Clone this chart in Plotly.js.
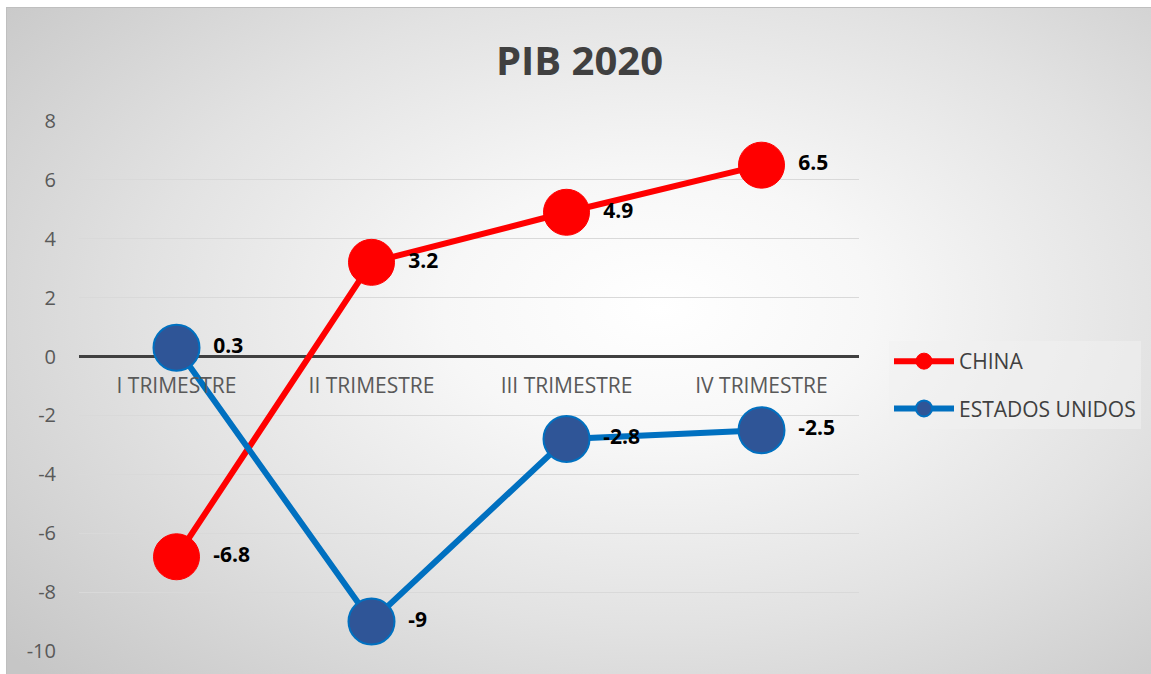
<!DOCTYPE html>
<html>
<head>
<meta charset="utf-8">
<script src="https://cdn.plot.ly/plotly-3.0.1.min.js"></script>
<style>
  html, body { margin: 0; padding: 0; background: #ffffff; width: 1151px; height: 674px; overflow: hidden; }
  #chart {
    position: absolute; left: 6px; top: 7px; width: 1145px; height: 667px;
    border-left: 1px solid #bfbfbf; border-top: 1px solid #bfbfbf; box-sizing: border-box;
    background: radial-gradient(ellipse 75% 80% at 57% 45%, #ffffff 0%, #f7f7f7 25%, #e2e2e2 60%, #c6c6c6 100%);
  }
</style>
</head>
<body>
<div id="chart"></div>
<script>
const categories = ["I TRIMESTRE", "II TRIMESTRE", "III TRIMESTRE", "IV TRIMESTRE"];
const chinaValues = [-6.8, 3.2, 4.9, 6.5];
const usaValues = [0.3, -9, -2.8, -2.5];
const seriesNames = ["CHINA", "ESTADOS UNIDOS"];
const yTicks = [-10, -8, -6, -4, -2, 0, 2, 4, 6, 8];

const labelFont = { family: "Open Sans, sans-serif", size: 21, color: "#000000", weight: 700 };
const pad = "\u2009\u2009";

const traces = [
  {
    x: categories, y: chinaValues, name: seriesNames[0], type: "scatter", mode: "lines+markers+text",
    line: { color: "#FF0000", width: 6 },
    marker: { color: "#FF0000", size: 46, line: { color: "#FF0000", width: 1 } },
    text: chinaValues.map(v => pad + String(v)), textposition: "middle right",
    textfont: labelFont, legendgroup: "a", cliponaxis: false
  },
  {
    x: categories, y: usaValues, name: seriesNames[1], type: "scatter", mode: "lines+markers+text",
    line: { color: "#0070C0", width: 6 },
    marker: { color: "#2F5597", size: 46, line: { color: "#0070C0", width: 2 } },
    text: usaValues.map(v => pad + String(v)), textposition: "middle right",
    textfont: labelFont, legendgroup: "b", cliponaxis: false
  }
];

const layout = {
  width: 1145, height: 667,
  paper_bgcolor: "rgba(0,0,0,0)", plot_bgcolor: "rgba(0,0,0,0)",
  margin: { l: 72, r: 293, t: 113, b: 24 },
  title: {
    text: "<b>PIB 2020</b>", x: 0.5, xanchor: "center", xref: "container",
    y: 1 - 53 / 667, yanchor: "middle", yref: "container",
    font: { family: "Open Sans, sans-serif", size: 40, color: "#404040" }
  },
  xaxis: {
    type: "category", range: [-0.5, 3.5], anchor: "free", position: 10 / 18,
    showgrid: false, showline: false, zeroline: false, ticks: "",
    tickfont: { family: "Open Sans, sans-serif", size: 21, color: "#595959" },
    ticklabelstandoff: 14, fixedrange: true
  },
  yaxis: {
    range: [-10, 8], tickvals: yTicks, ticktext: yTicks.map(String),
    showgrid: true, gridcolor: "#d9d9d9", gridwidth: 1,
    zeroline: true, zerolinecolor: "#404040", zerolinewidth: 3,
    showline: false, ticks: "",
    tickfont: { family: "Open Sans, sans-serif", size: 20, color: "#595959" },
    ticklabelstandoff: 22, fixedrange: true
  },
  showlegend: true,
  legend: {
    x: 882 / 1145, xanchor: "left", xref: "container",
    y: 1 - 333 / 667, yanchor: "top", yref: "container",
    bgcolor: "rgba(240,240,240,0.55)", borderwidth: 0,
    font: { family: "Open Sans, sans-serif", size: 21, color: "#404040" },
    traceorder: "grouped", tracegroupgap: 17, itemwidth: 60
  }
};

Plotly.newPlot("chart", traces, layout, { displayModeBar: false, staticPlot: true });
</script>
</body>
</html>
